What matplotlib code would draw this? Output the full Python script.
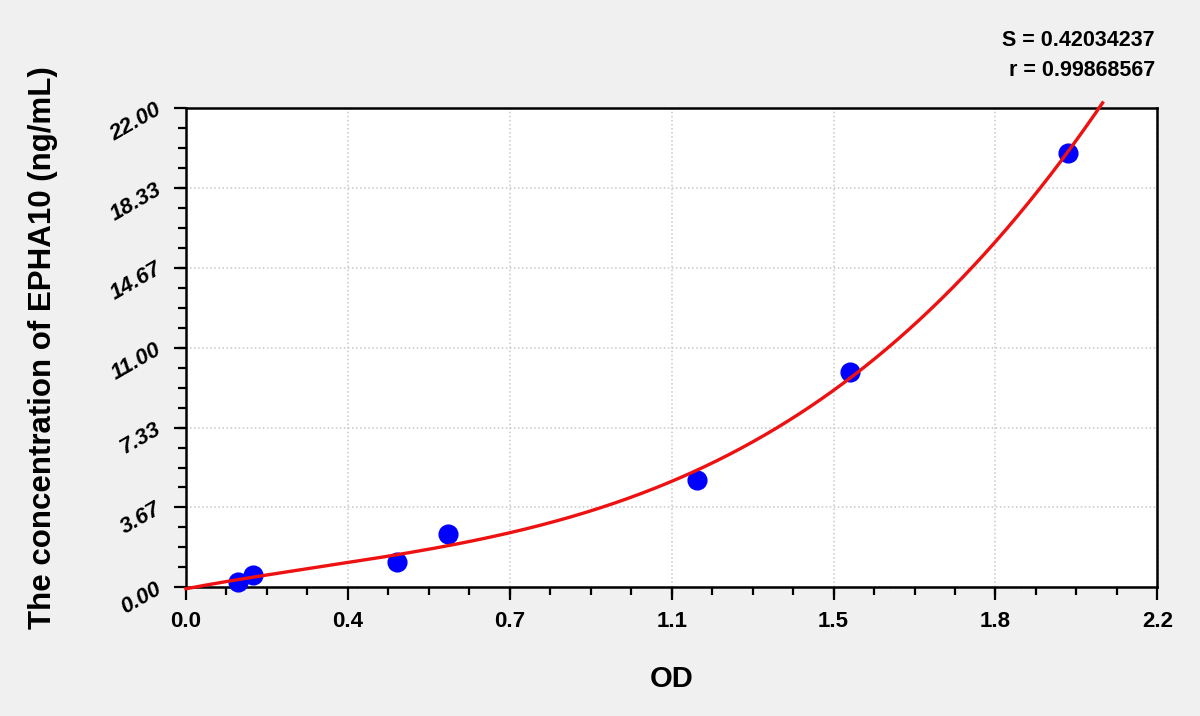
import numpy as np
import matplotlib
matplotlib.use('Agg')
import matplotlib.pyplot as plt
from matplotlib.ticker import AutoMinorLocator

# standard points
od = [0.118, 0.152, 0.477, 0.594, 1.157, 1.503, 1.997]
conc = [0.26, 0.56, 1.15, 2.43, 4.94, 9.90, 19.93]

x_ticks = [0.0, 0.3667, 0.7333, 1.1, 1.4667, 1.8333, 2.2]
x_labels = ['0.0', '0.4', '0.7', '1.1', '1.5', '1.8', '2.2']
y_ticks = [0.0, 3.667, 7.333, 11.0, 14.667, 18.333, 22.0]
y_labels = ['0.00', '3.67', '7.33', '11.00', '14.67', '18.33', '22.00']

stats = ['S = 0.42034237', 'r = 0.99868567']

plt.rcParams['font.family'] = ['Liberation Sans', 'DejaVu Sans']
bg = '#f0f0f0'

fig = plt.figure(figsize=(12, 7.16), dpi=100, facecolor=bg)
ax = fig.add_axes([0.155, 0.1798, 0.8094, 0.669])
ax.set_facecolor('white')

# fitted standard curve (cubic through the standards)
coef = np.polyfit(od, conc, 3)
xs = np.linspace(0, 2.2, 800)
ys = np.polyval(coef, xs)
keep = ys <= 22.25
ax.plot(xs[keep], ys[keep], color='#ee1111', lw=2.4, zorder=4, clip_on=False)

ax.plot(od, conc, 'o', color='#0000ff', ms=13.5, zorder=3, clip_on=False)

ax.set_xlim(0, 2.2)
ax.set_ylim(0, 22)
ax.set_xticks(x_ticks)
ax.set_xticklabels(x_labels, fontsize=16, fontweight='bold')
ax.set_yticks(y_ticks)
ax.set_yticklabels(y_labels, fontsize=16, fontweight='bold', style='italic',
                   rotation=30, ha='right', va='center', rotation_mode='anchor')
ax.xaxis.set_minor_locator(AutoMinorLocator(4))
ax.yaxis.set_minor_locator(AutoMinorLocator(4))
ax.tick_params(which='major', length=9, width=1.6, direction='out', pad=8)
ax.tick_params(which='minor', length=6, width=1.6, direction='out')
ax.tick_params(axis='y', pad=10)

for s in ax.spines.values():
    s.set_linewidth(1.8)
    s.set_color('black')

ax.grid(True, which='major', color='#c8c8c8', linestyle=':', linewidth=1.1)
ax.set_axisbelow(True)

ax.set_xlabel('OD', fontsize=21, fontweight='bold', va='center')
ax.xaxis.set_label_coords(0.5, -0.191)
ax.set_ylabel('The concentration of EPHA10 (ng/mL)', fontsize=22.5,
              fontweight='bold', va='center')
ax.yaxis.set_label_coords(-0.147, 0.5)

fig.text(0.9625, 0.944, stats[0], ha='right', va='center', fontsize=15.5, fontweight='bold')
fig.text(0.9625, 0.902, stats[1], ha='right', va='center', fontsize=15.5, fontweight='bold')

fig.savefig('out.png', dpi=100, facecolor=bg)
